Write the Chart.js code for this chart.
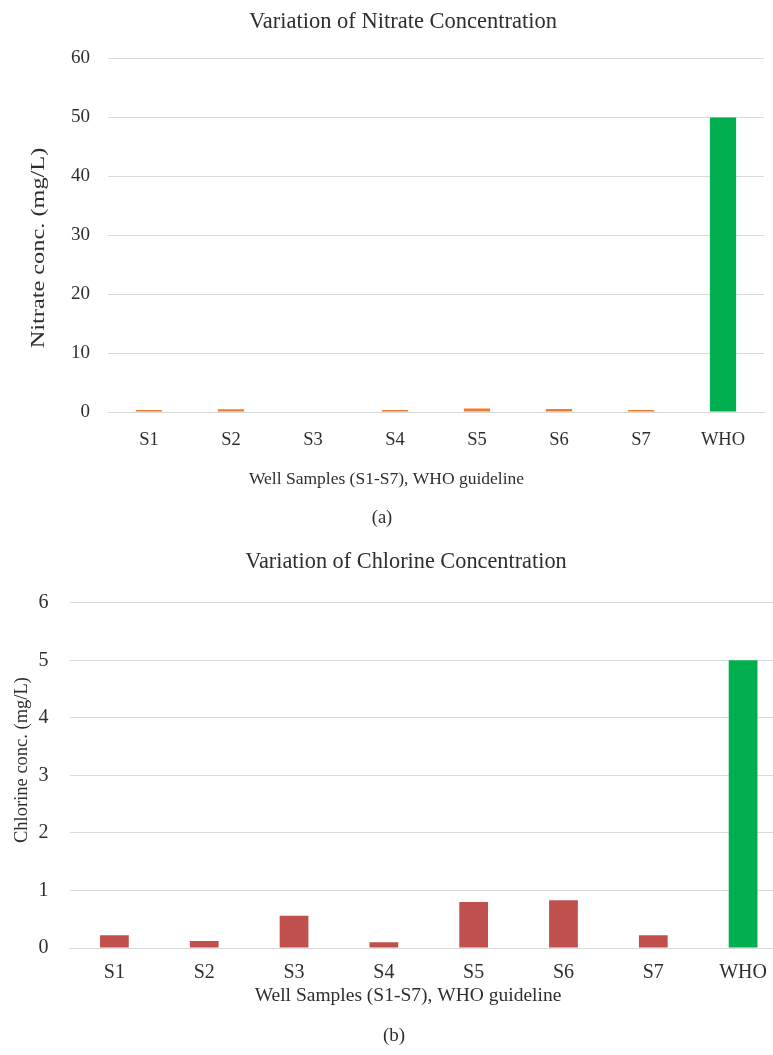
<!DOCTYPE html>
<html>
<head>
<meta charset="utf-8">
<script src="https://cdn.jsdelivr.net/npm/chart.js@4.4.0/dist/chart.umd.min.js"></script>
<style>
  html, body { margin: 0; padding: 0; background: #ffffff; overflow: hidden; }
  #wrap { position: relative; width: 773px; height: 1055px; overflow: hidden; background: #ffffff; }
  #c1 { position: absolute; left: 0; top: 0; }
  #c2 { position: absolute; left: 0; top: 540px; }
</style>
</head>
<body>
<div id="wrap">
  <canvas id="c1" width="773" height="540"></canvas>
  <canvas id="c2" width="800" height="515"></canvas>
</div>
<script>
// Sample sites and the WHO guideline column
const categories = ['S1', 'S2', 'S3', 'S4', 'S5', 'S6', 'S7', 'WHO'];

// Nitrate (mg/L) per well, last entry is the WHO guideline
const nitrateValues = [0.35, 0.45, 0, 0.35, 0.6, 0.5, 0.35, 50];
const nitrateTicks = [0, 10, 20, 30, 40, 50, 60];

// Chlorine (mg/L) per well, last entry is the WHO guideline
const chlorineValues = [0.22, 0.12, 0.56, 0.1, 0.8, 0.83, 0.22, 5];
const chlorineTicks = [0, 1, 2, 3, 4, 5, 6];

const FONT = "'Liberation Serif', 'Times New Roman', serif";
const TEXT = '#2e2e2e';
const GRID = '#d9d9d9';
const GUIDE_COLOR = '#00B050';

function barColors(values, sampleColor) {
  return values.map((v, i) => categories[i] === 'WHO' ? GUIDE_COLOR : sampleColor);
}

// Chart heading, axis titles and panel letter, drawn after the chart itself
function captionsPlugin(items) {
  return {
    id: 'captions',
    afterDraw(chart) {
      const ctx = chart.ctx;
      items.forEach(it => {
        ctx.save();
        ctx.font = `${it.size}px ${FONT}`;
        ctx.fillStyle = TEXT;
        ctx.textAlign = 'center';
        ctx.textBaseline = 'middle';
        ctx.translate(it.x, it.y);
        if (it.vertical) ctx.rotate(-Math.PI / 2);
        ctx.scale(it.stretch || 1, 1);
        ctx.fillText(it.text, 0, 0);
        ctx.restore();
      });
    }
  };
}

function makeChart(canvasId, cfg) {
  const tickMax = cfg.ticks[cfg.ticks.length - 1];
  const tickStep = cfg.ticks[1] - cfg.ticks[0];
  const canvas = document.getElementById(canvasId);
  return new Chart(canvas, {
    type: 'bar',
    data: {
      labels: categories,
      datasets: [{
        data: cfg.values,
        backgroundColor: barColors(cfg.values, cfg.color),
        borderWidth: 0,
        categoryPercentage: 1,
        barPercentage: 0.32
      }]
    },
    options: {
      responsive: false,
      animation: false,
      layout: {
        padding: {
          left: 0,
          top: cfg.area.top,
          right: canvas.width - cfg.area.right,
          bottom: canvas.height - cfg.area.bottom - cfg.xHeight
        }
      },
      plugins: {
        legend: { display: false },
        tooltip: { enabled: false },
        title: { display: false }
      },
      scales: {
        x: {
          grid: { display: false },
          border: { display: true, color: GRID, width: 1 },
          ticks: {
            color: TEXT,
            font: { family: FONT, size: cfg.tickSize },
            padding: cfg.xTickPad,
            maxRotation: 0
          },
          afterFit: (s) => { s.height = cfg.xHeight; }
        },
        y: {
          min: 0,
          max: tickMax,
          grid: { color: GRID, lineWidth: 1, drawTicks: false },
          border: { display: false },
          ticks: {
            stepSize: tickStep,
            color: TEXT,
            font: { family: FONT, size: cfg.yTickSize },
            padding: cfg.yTickPad
          },
          afterFit: (s) => { s.width = cfg.area.left; }
        }
      }
    },
    plugins: [captionsPlugin(cfg.captions)]
  });
}

makeChart('c1', {
  values: nitrateValues,
  ticks: nitrateTicks,
  color: '#ED7D31',
  area: { left: 108, top: 58.5, right: 764, bottom: 412 },
  xHeight: 40,
  tickSize: 18.5,
  yTickSize: 19,
  xTickPad: 9,
  yTickPad: 18,
  captions: [
    { text: 'Variation of Nitrate Concentration', x: 403, y: 22, size: 22.5 },
    { text: 'Well Samples (S1-S7), WHO guideline', x: 386.5, y: 479, size: 17.5 },
    { text: '(a)', x: 382, y: 518, size: 18.5 },
    { text: 'Nitrate conc. (mg/L)', x: 39.5, y: 248, size: 19, vertical: true, stretch: 1.28 }
  ]
});

makeChart('c2', {
  values: chlorineValues,
  ticks: chlorineTicks,
  color: '#C0504D',
  area: { left: 69.5, top: 62.7, right: 788, bottom: 408 },
  xHeight: 40,
  tickSize: 20,
  yTickSize: 20,
  xTickPad: 5,
  yTickPad: 21,
  captions: [
    { text: 'Variation of Chlorine Concentration', x: 406, y: 22, size: 22.3 },
    { text: 'Well Samples (S1-S7), WHO guideline', x: 408, y: 456, size: 19.5 },
    { text: '(b)', x: 394, y: 496, size: 19 },
    { text: 'Chlorine conc. (mg/L)', x: 22, y: 220, size: 18.5, vertical: true }
  ]
});
</script>
</body>
</html>
